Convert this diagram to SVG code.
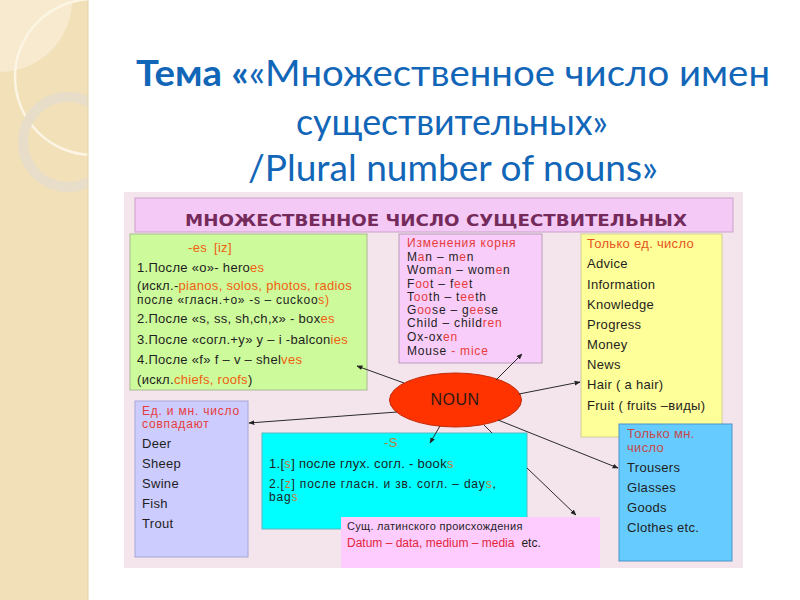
<svg xmlns="http://www.w3.org/2000/svg" width="800" height="600" viewBox="0 0 800 600">
<defs>
<style>
.t{font-family:"Liberation Sans",Arial,sans-serif;font-size:13px;letter-spacing:0.3px;fill:#1e1e1e}
.s12{font-size:12px;letter-spacing:0.8px}
.o{fill:#f0600f}
.r{fill:#e63c3c}
.rm{fill:#c44a4a}
.br{fill:#c47a3a}
.ttl{font-family:Lato,"Open Sans",sans-serif;font-size:36px;fill:#1266b8}
.box{stroke-width:1}
.cn{fill:none;stroke:#2a2a2a;stroke-width:1;marker-end:url(#ah)}
</style>
<marker id="ah" viewBox="0 0 10 10" refX="9" refY="5" markerWidth="6" markerHeight="6" orient="auto"><path d="M0,1 L10,5 L0,9 z" fill="#222"/></marker>
<clipPath id="stripClip"><rect x="0" y="0" width="88" height="600"/></clipPath>
</defs>
<rect x="0" y="0" width="800" height="600" fill="#ffffff"/>
<g id="side-decor">
<rect x="0" y="0" width="88" height="600" fill="#f2e0b8"/>
<g clip-path="url(#stripClip)">
<path d="M0,0 H72 A72,72 0 0 1 0,72 Z" fill="#f7eacf"/>
<circle cx="93" cy="77" r="78" fill="none" stroke="#fcf5e3" stroke-width="2.5"/>
<circle cx="68" cy="142" r="45" fill="none" stroke="#e7ddc9" stroke-width="10"/>
</g>
<line x1="88" y1="0" x2="88" y2="600" stroke="#e3d2aa" stroke-width="1"/>
</g>
<g id="title">
<text class="ttl" x="136" y="86" textLength="634" lengthAdjust="spacingAndGlyphs"><tspan font-weight="bold">Тема «</tspan>«Множественное число имен</text>
<text class="ttl" x="296" y="135" textLength="312" lengthAdjust="spacingAndGlyphs">существительных»</text>
<text class="ttl" x="248" y="181" textLength="410" lengthAdjust="spacingAndGlyphs">/Plural number of nouns»</text>
</g>
<rect id="panel" x="124" y="192" width="619" height="376" fill="#f4e5ed"/>
<g id="header">
<rect x="135" y="198" width="598" height="34" fill="#f5c9f5" stroke="#c9a2c9"/>
<text x="185" y="226" textLength="502" lengthAdjust="spacingAndGlyphs" font-family="'DejaVu Sans','Liberation Sans',sans-serif" font-size="16" font-weight="bold" fill="#742b5c">МНОЖЕСТВЕННОЕ ЧИСЛО СУЩЕСТВИТЕЛЬНЫХ</text>
</g>
<g id="node-es">
<rect class="box" x="130" y="234" width="237" height="156" fill="#cdfa9b" stroke="#a9b994"/>
<text class="t" x="188" y="252"><tspan class="o">-es</tspan><tspan class="o" x="214">[iz]</tspan></text>
<text class="t" x="137" y="272">1.После «о»- hero<tspan class="o">es</tspan></text>
<text class="t" x="137" y="290">(искл.-<tspan class="o">pianos, solos, photos, radios</tspan></text>
<text class="t s12" x="137" y="304" style="letter-spacing:0.7px">после «гласн.+о» -s – cuckoo<tspan class="o">s)</tspan></text>
<text class="t" x="137" y="323">2.После «s, ss, sh,ch,x» - box<tspan class="o">es</tspan></text>
<text class="t" x="137" y="344">3.После «согл.+у» у – i -balcon<tspan class="o">ies</tspan></text>
<text class="t" x="137" y="364">4.После «f» f – v – shel<tspan class="o">ves</tspan></text>
<text class="t" x="137" y="384">(искл.<tspan class="o">chiefs, roofs</tspan>)</text>
</g>
<g id="node-root">
<rect class="box" x="399" y="234" width="143" height="129" fill="#f9cdf9" stroke="#b99cb9"/>
<text class="t s12 r" x="407" y="247">Изменения корня</text>
<text class="t s12" x="407" y="261">M<tspan class="r">a</tspan>n – m<tspan class="r">e</tspan>n</text>
<text class="t s12" x="407" y="274">Wom<tspan class="r">a</tspan>n – wom<tspan class="r">e</tspan>n</text>
<text class="t s12" x="407" y="288">F<tspan class="r">oo</tspan>t – f<tspan class="r">ee</tspan>t</text>
<text class="t s12" x="407" y="301">T<tspan class="r">oo</tspan>th – t<tspan class="r">ee</tspan>th</text>
<text class="t s12" x="407" y="314">G<tspan class="r">oo</tspan>se – g<tspan class="r">ee</tspan>se</text>
<text class="t s12" x="407" y="327">Child – child<tspan class="r">ren</tspan></text>
<text class="t s12" x="407" y="341">Ox-ox<tspan class="r">en</tspan></text>
<text class="t s12" x="407" y="355">Mouse<tspan class="r"> - mice</tspan></text>
</g>
<g id="node-sing">
<rect class="box" x="581" y="234" width="141" height="203" fill="#ffff99" stroke="#cfcf94"/>
<text class="t" x="587" y="248" style="fill:#e6541c">Только ед. число</text>
<text class="t" x="587" y="268">Advice</text>
<text class="t" x="587" y="289">Information</text>
<text class="t" x="587" y="309">Knowledge</text>
<text class="t" x="587" y="329">Progress</text>
<text class="t" x="587" y="349">Money</text>
<text class="t" x="587" y="369">News</text>
<text class="t" x="587" y="389">Hair ( a hair)</text>
<text class="t" x="587" y="410">Fruit ( fruits –виды)</text>
</g>
<g id="node-same">
<rect class="box" x="135" y="401" width="113" height="156" fill="#ccccff" stroke="#a6a6d6"/>
<text class="t s12 r" x="142" y="415">Ед. и мн. число</text>
<text class="t s12 r" x="142" y="428">совпадают</text>
<text class="t" x="142" y="448">Deer</text>
<text class="t" x="142" y="468">Sheep</text>
<text class="t" x="142" y="488">Swine</text>
<text class="t" x="142" y="508">Fish</text>
<text class="t" x="142" y="528">Trout</text>
</g>
<g id="node-s">
<rect class="box" x="262" y="433" width="265" height="96" fill="#00ffff" stroke="#5fb6c4"/>
<text class="t br" x="384" y="447">-S</text>
<text class="t" x="269" y="468">1.[<tspan class="br">s</tspan>] после глух. согл. - book<tspan class="br">s</tspan></text>
<text class="t s12" x="269" y="488">2.[<tspan class="br">z</tspan>] после гласн. и зв. согл. – day<tspan class="br">s</tspan>,</text>
<text class="t s12" x="269" y="501">bag<tspan class="br">s</tspan></text>
</g>
<g id="node-latin">
<rect x="341" y="517" width="259" height="51" fill="#ffccff"/>
<text class="t" x="347" y="530" style="font-size:11px">Сущ. латинского происхождения</text>
<text class="t" x="347" y="547" style="font-size:12px;letter-spacing:0"><tspan style="fill:#e2263c">Datum – data, medium – media</tspan><tspan dx="7">etc.</tspan></text>
</g>
<g id="node-plural">
<rect class="box" x="619" y="424" width="113" height="137" fill="#66ccff" stroke="#4f92c6"/>
<text class="t rm" x="627" y="438">Только мн.</text>
<text class="t rm" x="627" y="452">число</text>
<text class="t" x="627" y="472">Trousers</text>
<text class="t" x="627" y="492">Glasses</text>
<text class="t" x="627" y="512">Goods</text>
<text class="t" x="627" y="532">Clothes etc.</text>
</g>
<g id="node-noun">
<ellipse cx="455.5" cy="400" rx="66" ry="27" fill="#ff3300" stroke="#c22a08" stroke-width="1"/>
<text x="455" y="405" text-anchor="middle" font-family="'Liberation Sans',Arial,sans-serif" font-size="16" letter-spacing="0.5" fill="#2e1a12">NOUN</text>
</g>
<g id="connectors">
<path class="cn" d="M404,383 L357,366"/>
<path class="cn" d="M496,380 L522,354"/>
<path class="cn" d="M519,394 L580,382"/>
<path class="cn" d="M397,412 L249,423"/>
<path class="cn" d="M440,426 L430,443"/>
<path class="cn" d="M498,420 L618,468"/>
<path class="cn" d="M484,425 L492,433 M527,468 L576,515"/>
</g>
</svg>
